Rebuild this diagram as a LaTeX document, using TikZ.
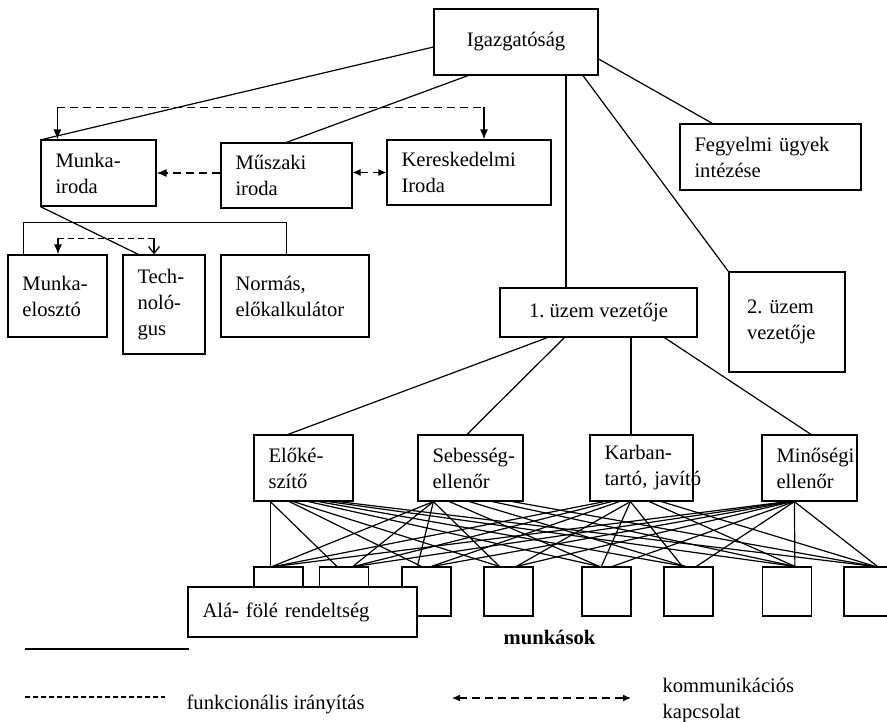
\documentclass[tikz,border=0pt]{standalone}
\usepackage{fontspec}
\setmainfont{Liberation Serif}
\usetikzlibrary{arrows.meta,calc}
\newcommand\orgfont{\fontsize{20.6}{26}\selectfont}
\frenchspacing

\begin{document}
\begin{tikzpicture}[x=1pt,y=-1pt,line width=1.2pt,
  orgbox/.style={draw,fill=white,inner xsep=14.5pt,inner ysep=0pt,align=left,font=\orgfont},
  midbox/.style={draw,fill=white,inner sep=0pt,align=center,font=\orgfont},
  worker/.style={draw,fill=white,minimum width=49pt,minimum height=49pt,inner sep=0pt},
  fdash/.style={dash pattern=on 8pt off 5pt},
  ldash/.style={dash pattern=on 5pt off 3pt},
  arrowdown/.style={-{Latex[length=10pt,width=8pt]}},
  arrowboth/.style={{Latex[length=8pt,width=7pt]}-{Latex[length=8pt,width=7pt]}},
  legendtext/.style={inner sep=0pt,font=\orgfont,align=left}]
\useasboundingbox (0,0) rectangle (887,721);

% management and offices
\node[midbox,minimum width=164pt,minimum height=66pt] (igaz) at (516,42) {Igazgatóság};
\node[orgbox,text width=86pt,minimum height=66pt] (munka) at (98.5,173) {Munka-\\iroda};
\node[orgbox,text width=102pt,minimum height=65pt] (muszaki) at (286.5,175.5) {Műszaki\\iroda};
\node[orgbox,text width=135pt,minimum height=65pt] (keresk) at (469,172.5) {Kereskedelmi\\Iroda};
\node[orgbox,text width=152pt,minimum height=66pt] (fegy) at (770.5,157) {Fegyelmi ügyek\\intézése};
\node[orgbox,inner xsep=18pt,text width=80pt,minimum height=100pt] (uzem2) at (787,322) {2. üzem\\vezetője};
\node[midbox,minimum width=197pt,minimum height=49pt] (uzem1) at (598.5,312.5) {1. üzem vezetője};

% staff under the work office
\node[orgbox,text width=70pt,minimum height=82pt] (elosz) at (57.5,296) {Munka-\\elosztó};
\node[orgbox,text width=53pt,minimum height=99pt] (tech) at (164,304.5) {Tech-\\noló-\\gus};
\node[orgbox,text width=119pt,minimum height=82pt] (normas) at (295,296) {Normás,\\\mbox{előkalkulátor}};

% plant level
\node[orgbox,text width=70pt,minimum height=66pt] (m1) at (303.5,468) {Előké-\\szítő};
\node[orgbox,text width=76pt,minimum height=66pt] (m2) at (470.5,468) {\mbox{Sebesség-}\\ellenőr};
\node[orgbox,text width=74pt,minimum height=66pt] (m3) at (641.5,468) {Karban-\\\mbox{tartó, javító}};
\node[orgbox,text width=66pt,minimum height=66pt] (m4) at (809.5,468) {\mbox{Minőségi}\\ellenőr};

% workers
\foreach \j/\cx in {1/278.5,2/344,3/426.5,4/508.5,5/606.5,6/688.5,7/787,8/868.5}
  \node[worker] (w\j) at (\cx,591.5) {};

% line connections from the board
\draw ($(igaz.west)+(0,5)$) -- ($(munka.north west)+(2,0)$);
\draw ($(igaz.south)+(-48,0)$) -- (muszaki.north);
\draw ($(igaz.south)+(50,0)$) coordinate (iv) -- (iv |- uzem1.north);
\draw ($(igaz.south)+(67,0)$) -- (uzem2.north west);
\draw ($(igaz.east)+(0,17)$) -- ($(fegy.north west)+(33,0)$);

% functional control between the offices
\coordinate (fa) at ($(munka.north west)+(17,-32)$);
\coordinate (fb) at ($(keresk.north)+(15,-32)$);
\draw[fdash] (fa) -- (fb);
\draw[arrowdown] (fa) -- (fa |- munka.north);
\draw[arrowdown] (fb) -- (fb |- keresk.north);
\draw[fdash,arrowdown] (muszaki.west |- munka.east) -- (munka.east);
\draw[fdash,arrowboth] (muszaki.east |- keresk.west) -- (keresk.west);

% work office staff
\draw (munka.south west) -- ($(tech.north west)+(16,0)$);
\draw ($(elosz.north west)+(16,0)$) |- ($(normas.north west)+(66,-32)$) -- ($(normas.north west)+(66,0)$);
\coordinate (ga) at ($(elosz.north)+(0.5,-16)$);
\coordinate (gb) at ($(tech.north)+(-10,-16)$);
\draw[dash pattern=on 6pt off 4pt] (ga) -- (gb);
\draw[arrowdown] (ga) -- (ga |- elosz.north);
\draw[-{Straight Barb[length=7pt,width=11pt]}] (gb) -- (gb |- tech.north);

% plant manager to the foremen
\draw ($(uzem1.south west)+(48,0)$) -- ($(m1.north)+(-15.5,0)$);
\draw ($(uzem1.south west)+(65,0)$) -- ($(m2.north)+(-3.5,0)$);
\draw ($(m3.north)+(-10.5,0)$) coordinate (kv) -- (kv |- uzem1.south);
\draw ($(uzem1.south west)+(165,0)$) -- ($(m4.north)+(1.5,0)$);

% every foreman to every worker
\foreach \j/\s/\t in {1/17/17,2/17/18,3/36/20,4/40/16,5/55/18,6/65/22,7/75/33,8/85/31}
  \draw ($(m1.south west)+(\s,0)$) -- ($(w\j.north west)+(\t,0)$);
\foreach \j/\s/\t in {1/16/19,2/16/34,3/16/16,4/16/16,5/32/18,6/52/22,7/75/33,8/95/31}
  \draw ($(m2.south west)+(\s,0)$) -- ($(w\j.north west)+(\t,0)$);
\foreach \j/\s/\t in {1/15/21,2/22/35,3/30/30,4/41/33,5/41/20,6/41/19,7/60/33,8/72/32}
  \draw ($(m3.south west)+(\s,0)$) -- ($(w\j.north west)+(\t,0)$);
\foreach \j/\s/\t in {1/26/22,2/28/36,3/30/31,4/31/33,5/33/31,6/33/33,7/33/33,8/33/34}
  \draw ($(m4.south west)+(\s,0)$) -- ($(w\j.north west)+(\t,0)$);

\node[orgbox,text width=200pt,minimum height=50pt] (ala) at (302.5,612) {Alá- fölé rendeltség};
\node[legendtext,font=\orgfont\bfseries,anchor=base] (munkasok) at (549.5,644) {munkások};

% legend
\coordinate (la) at (25,649);
\coordinate (lb) at (189,649);
\draw (la) -- (lb);
\coordinate (lc) at (25,697);
\coordinate (ld) at (165,697);
\draw[ldash] (lc) -- (ld);
\node[legendtext,anchor=base west] (lfun) at (186,709) {funkcionális irányítás};
\coordinate (le) at (452,698);
\coordinate (lf) at (631,698);
\draw[fdash,arrowboth] (le) -- (lf);
\node[legendtext,anchor=base west] (lcomm) at (662,718) {kommunikációs\\kapcsolat};
\end{tikzpicture}
\end{document}
